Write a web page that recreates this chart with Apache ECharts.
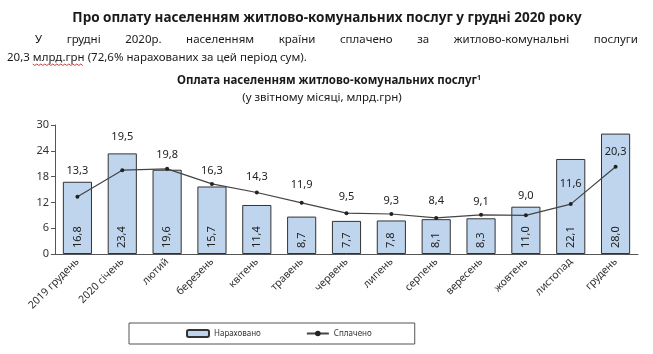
<!DOCTYPE html>
<html>
<head>
<meta charset="utf-8">
<script src="https://cdn.jsdelivr.net/npm/echarts@6/dist/echarts.min.js"></script>
<style>
    html, body { margin: 0; background: #fff; }
    #chart { width: 653px; height: 354px; }
</style>
</head>
<body>
<div id="chart"></div>
<script>
    // дані з графіка
    const months = ['2019 грудень', '2020 січень', 'лютий', 'березень', 'квітень', 'травень',
        'червень', 'липень', 'серпень', 'вересень', 'жовтень', 'листопад', 'грудень'];
    const accrued = [16.8, 23.4, 19.6, 15.7, 11.4, 8.7, 7.7, 7.8, 8.1, 8.3, 11.0, 22.1, 28.0];
    const paid = [13.3, 19.5, 19.8, 16.3, 14.3, 11.9, 9.5, 9.3, 8.4, 9.1, 9.0, 11.6, 20.3];
    const seriesNames = ['Нараховано', 'Сплачено'];

    // відступ підписів лінії над точкою (px)
    const paidLabelGap = [18, 26, 7, 6, 8, 10, 9, 6, 10, 6, 12, 13, 7];

    const FONT = '"Noto Sans", sans-serif';
    const comma = v => v.toFixed(1).replace('.', ',');

    // вирівнювання першого рядка абзацу по ширині
    const paraFont = '11.5px "Noto Sans"';
    const line1 = ['У', 'грудні', '2020р.', 'населенням', 'країни', 'сплачено', 'за', 'житлово-комунальні', 'послуги'];
    const ctx = document.createElement('canvas').getContext('2d');
    ctx.font = paraFont;
    const widths = line1.map(w => ctx.measureText(w).width);
    const lineStart = 35, lineEnd = 638;
    const gap = (lineEnd - lineStart - widths.reduce((a, b) => a + b, 0)) / (line1.length - 1);
    let cx = lineStart;
    const paraWords = line1.map((w, i) => {
        const el = {type: 'text', x: cx, y: 40, style: {text: w, font: paraFont, fill: '#1a1a1a', verticalAlign: 'middle'}};
        cx += widths[i] + gap;
        return el;
    });

    // червоне хвилясте підкреслення (перевірка орфографії)
    const pre = '20,3 ';
    const underlined = 'млрд.грн';
    const uStart = 7 + ctx.measureText(pre).width;
    const uWidth = ctx.measureText(underlined).width;
    const wave = [];
    for (let x = 0; x <= uWidth; x += 2) {
        wave.push([uStart + x, 64.5 + ((x / 2) % 2 ? 1 : -0.5)]);
    }

    let chart = echarts.init(document.getElementById('chart'));
    window.addEventListener('resize', function () {
        chart.resize();
    });

    chart.setOption({
        animation: false,
        textStyle: {fontFamily: FONT},
        graphic: [
            {
                type: 'text', x: 327, y: 18,
                style: {
                    text: 'Про оплату населенням житлово-комунальних послуг у грудні 2020 року',
                    font: 'bold 13.5px "Noto Sans"', fill: '#1a1a1a', align: 'center', verticalAlign: 'middle'
                }
            },
            ...paraWords,
            {
                type: 'text', x: 7, y: 58,
                style: {
                    text: '20,3 млрд.грн (72,6% нарахованих за цей період сум).',
                    font: paraFont, fill: '#1a1a1a', verticalAlign: 'middle'
                }
            },
            {
                type: 'polyline',
                shape: {points: wave},
                style: {stroke: '#d33', lineWidth: 1, fill: null}
            },
            {
                type: 'text', x: 329, y: 81,
                style: {
                    text: '{t|Оплата населенням житлово-комунальних послуг}{s|1}',
                    rich: {
                        t: {font: 'bold 11.5px "Noto Sans"', fill: '#1a1a1a'},
                        s: {font: 'bold 7px "Noto Sans"', fill: '#1a1a1a', verticalAlign: 'top', padding: [0, 0, 6, 0]}
                    },
                    align: 'center', verticalAlign: 'middle'
                }
            },
            {
                type: 'text', x: 322, y: 98,
                style: {
                    text: '(у звітному місяці, млрд.грн)',
                    font: '11.5px "Noto Sans"', fill: '#1a1a1a', align: 'center', verticalAlign: 'middle'
                }
            }
        ],
        legend: {
            left: 129,
            top: 323,
            padding: [6, 43, 6, 57],
            borderColor: '#555',
            borderWidth: 1,
            itemWidth: 22,
            itemHeight: 7,
            itemGap: 45,
            textStyle: {fontSize: 8, color: '#333'},
            data: seriesNames
        },
        grid: {
            left: 55,
            right: 15,
            top: 125,
            bottom: 100
        },
        xAxis: {
            type: 'category',
            data: months,
            axisLine: {lineStyle: {color: '#555'}},
            axisTick: {length: 4, lineStyle: {color: '#555'}},
            axisLabel: {
                rotate: 45,
                interval: 0,
                fontSize: 10.5,
                color: '#333',
                margin: 6
            }
        },
        yAxis: {
            type: 'value',
            min: 0,
            max: 30,
            interval: 6,
            axisLine: {show: true, lineStyle: {color: '#555'}},
            axisTick: {show: true, length: 4, lineStyle: {color: '#555'}},
            splitLine: {show: false},
            axisLabel: {fontSize: 11, color: '#333', margin: 6}
        },
        series: [
            {
                name: seriesNames[0],
                type: 'bar',
                data: accrued,
                barCategoryGap: '35%',
                itemStyle: {
                    color: '#bfd5ee',
                    borderColor: '#333',
                    borderWidth: 1
                },
                label: {
                    show: true,
                    position: 'insideBottom',
                    distance: 6,
                    rotate: 90,
                    align: 'left',
                    verticalAlign: 'middle',
                    fontSize: 11,
                    color: '#222',
                    formatter: p => comma(p.value)
                }
            },
            {
                name: seriesNames[1],
                type: 'line',
                data: paid.map((v, i) => ({
                    value: v,
                    label: {distance: paidLabelGap[i]}
                })),
                symbol: 'circle',
                symbolSize: 4,
                itemStyle: {color: '#222'},
                lineStyle: {color: '#444', width: 1.2},
                label: {
                    show: true,
                    position: 'top',
                    fontSize: 11,
                    color: '#222',
                    formatter: p => comma(p.value)
                }
            }
        ]
    });
</script>
</body>
</html>
